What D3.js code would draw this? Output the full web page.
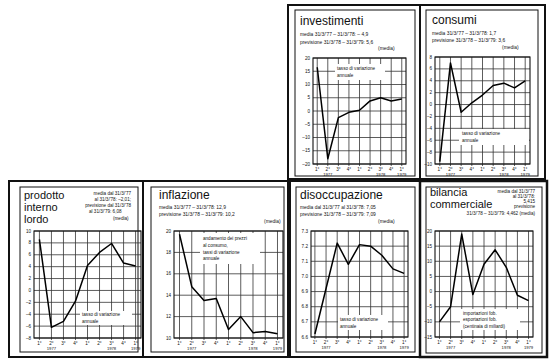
<!DOCTYPE html>
<html><head><meta charset="utf-8">
<script src="https://cdn.jsdelivr.net/npm/d3@7"></script>
<style>
html,body{margin:0;padding:0;background:#fff;}
svg{display:block;}
text{font-family:"Liberation Sans",Arial,Helvetica,sans-serif;fill:#111;}
</style></head><body>
<svg id="c" width="553" height="364"></svg>
<script>
// ---- data ----
const quarters = ["1°","2°","3°","4°","1°","2°","3°","4°","1°"];
const yearLabels = ["1977","1978","1979"];
const yearAt = [1, 6, 8]; // category index under which each year label sits

const investimenti = [16.5, -18, -2.5, -0.5, 0.3, 3.8, 5.0, 3.8, 4.5];
const consumi = [-9.6, 7.0, -1.3, 0.3, 1.6, 3.2, 3.6, 2.8, 4.0];
const prodotto = [8.6, -6.2, -5.2, -1.8, 4.2, 6.4, 7.9, 4.6, 4.1];
const inflazione = [19.7, 14.8, 13.5, 13.7, 10.8, 12.0, 10.5, 10.6, 10.4];
const disoccupazione = [6.62, 6.92, 7.22, 7.08, 7.21, 7.20, 7.14, 7.05, 7.02];
const bilancia = [-10, -5, 19, -1, 9, 13.8, 8, -1.2, -3];

const invTicks = [20, 15, 10, 5, 0, -5, -10, -15, -20];
const consTicks = [8, 6, 4, 2, 0, -2, -4, -6, -8, -10];
const pilTicks = [10, 8, 6, 4, 2, 0, -2, -4, -6, -8];
const inflTicks = [20, 18, 16, 14, 12, 10];
const disTicks = [7.3, 7.2, 7.1, 7.0, 6.9, 6.8, 6.7, 6.6];
const bilTicks = [20, 15, 10, 5, 0, -5, -10, -15];

const svg = d3.select("#c");

// ---- frames ----
function frame(x0, y0, x1, y1, w) {
  svg.append("rect").attr("x", x0).attr("y", y0).attr("width", x1 - x0).attr("height", y1 - y0)
    .attr("fill", "none").attr("stroke", "#111").attr("stroke-width", w);
}
// outer panel frames
frame(288, 5, 420, 179, 2);
frame(420, 5, 545, 179, 2);
frame(9, 181, 143, 357, 2);
frame(143, 181, 288, 357, 2);
frame(290, 181, 420, 357, 2);
frame(420, 181, 547, 357, 2.5);
// inner boxes
frame(295, 10, 415, 176, 1);
frame(426, 10, 538, 176, 1);
frame(20, 187, 138, 352, 1);
frame(151, 187, 284, 352, 1);
frame(296, 187, 415, 352, 1);
frame(426, 187, 542, 353, 1);

function txt(x, y, s, size, anchor, weight) {
  return svg.append("text").attr("x", x).attr("y", y).attr("font-size", size)
    .attr("text-anchor", anchor || "start").attr("font-weight", weight || "normal").text(s);
}

function panel(cfg) {
  const x = d3.scalePoint().domain(d3.range(quarters.length)).range([cfg.x0, cfg.x1]).padding(cfg.pad);
  const y = d3.scaleLinear().domain([d3.min(cfg.ticks), d3.max(cfg.ticks)]).range([cfg.y1, cfg.y0]);
  const g = svg.append("g");
  // horizontal grid
  g.selectAll(".h").data(cfg.ticks).join("line")
    .attr("x1", cfg.x0).attr("x2", cfg.x1).attr("y1", d => y(d)).attr("y2", d => y(d))
    .attr("stroke", "#333").attr("stroke-width", 0.8);
  // vertical grid
  g.selectAll(".v").data(d3.range(quarters.length)).join("line")
    .attr("x1", d => x(d)).attr("x2", d => x(d)).attr("y1", cfg.y0).attr("y2", cfg.y1 + 2)
    .attr("stroke", "#333").attr("stroke-width", 0.8);
  // plot border
  g.append("rect").attr("x", cfg.x0).attr("y", cfg.y0).attr("width", cfg.x1 - cfg.x0).attr("height", cfg.y1 - cfg.y0)
    .attr("fill", "none").attr("stroke", "#111").attr("stroke-width", 1.1);
  // y labels
  g.selectAll(".yl").data(cfg.ticks).join("text")
    .attr("x", cfg.x0 - 3).attr("y", d => y(d) + 1.6).attr("font-size", 4.6).attr("text-anchor", "end")
    .text(d => cfg.fmt ? cfg.fmt(d) : (d < 0 ? "–" + Math.abs(d) : d));
  // x labels
  g.selectAll(".xl").data(quarters).join("text")
    .attr("x", (d, i) => x(i)).attr("y", cfg.y1 + 6.5).attr("font-size", 4.6).attr("text-anchor", "middle").text(d => d);
  g.selectAll(".yr").data(yearLabels).join("text")
    .attr("x", (d, i) => x(yearAt[i])).attr("y", cfg.y1 + 11.5).attr("font-size", 4.2).attr("text-anchor", "middle").text(d => d);
  // legend box
  if (cfg.legend) {
    const L = cfg.legend;
    g.append("rect").attr("x", L.x).attr("y", L.y).attr("width", L.w).attr("height", L.h).attr("fill", "#fff");
    L.lines.forEach((s, i) => txt(L.x + L.tx, L.y + L.ty + i * L.dy, s, 4.6));
  }
  // data line
  const line = d3.line().x((d, i) => x(i)).y(d => y(d));
  g.append("path").datum(cfg.data).attr("d", line).attr("fill", "none")
    .attr("stroke", "#000").attr("stroke-width", 1.5).attr("stroke-linejoin", "round");
}

// ---- investimenti ----
txt(300, 25, "investimenti", 12);
txt(300, 36, "media 31/3/'77 – 31/3/'78: – 4,9", 4.9);
txt(300, 44, "previsione 31/3/'78 – 31/3/'79: 5,6", 4.9);
txt(378, 50, "(media)", 4.9);
panel({data: investimenti, ticks: invTicks, x0: 313, x1: 406, y0: 58, y1: 164, pad: 0.4,
  legend: {x: 335, y: 64, w: 50, h: 16, tx: 2, ty: 6, dy: 6.5, lines: ["tasso di variazione", "annuale"]}});

// ---- consumi ----
txt(432, 24, "consumi", 12);
txt(432, 35, "media 31/3/'77 – 31/3/'78: 1,7", 4.9);
txt(432, 42, "previsione 31/3/'78 – 31/3/'79: 3,6", 4.9);
txt(502, 49, "(media)", 4.9);
panel({data: consumi, ticks: consTicks, x0: 435, x1: 530, y0: 57, y1: 164, pad: 0.45,
  legend: {x: 459, y: 129, w: 70, h: 16, tx: 3, ty: 6, dy: 7, lines: ["tasso di variazione", "annuale"]}});

// ---- prodotto interno lordo ----
txt(24, 199, "prodotto", 11);
txt(24, 211, "interno", 11);
txt(24, 223, "lordo", 11);
txt(131, 195, "media dal 31/3/'77", 4.6, "end");
txt(131, 201, "al 31/3/'78: –2,01;", 4.6, "end");
txt(131, 207, "previsione dal 31/3/'78", 4.6, "end");
txt(89, 213, "al 31/3/'79: 6,08", 4.6);
txt(113, 220, "(media)", 4.6);
panel({data: prodotto, ticks: pilTicks, x0: 34, x1: 141, y0: 231, y1: 338, pad: 0.45,
  legend: {x: 80, y: 311, w: 52, h: 14, tx: 2, ty: 5, dy: 6.5, lines: ["tasso di variazione", "annuale"]}});

// ---- inflazione ----
txt(159, 199, "inflazione", 12);
txt(159, 209, "media 31/3/'77 – 31/3/'78: 12,9", 4.9);
txt(159, 216, "previsione 31/3/'78 – 31/3/'79: 10,2", 4.9);
txt(264, 223, "(media)", 4.9);
panel({data: inflazione, ticks: inflTicks, x0: 174, x1: 283, y0: 231, y1: 338, pad: 0.45,
  legend: {x: 200, y: 233, w: 60, h: 31, tx: 3, ty: 7, dy: 6.8,
    lines: ["andamento dei prezzi", "al consumo,", "tassi di variazione", "annuale"]}});

// ---- disoccupazione ----
txt(300, 199, "disoccupazione", 12);
txt(300, 209, "media dal 31/3/'77 al 31/3/'78: 7,05", 4.9);
txt(300, 216, "previsione 31/3/'78 – 31/3/'79: 7,09", 4.9);
txt(378, 223, "(media)", 4.9);
panel({data: disoccupazione, ticks: disTicks, fmt: d => d.toFixed(1), x0: 311, x1: 408, y0: 231, y1: 337, pad: 0.35,
  legend: {x: 338, y: 315, w: 50, h: 15, tx: 2, ty: 6, dy: 6.5, lines: ["tasso di variazione", "annuale"]}});

// ---- bilancia commerciale ----
txt(430, 196, "bilancia", 11);
txt(430, 208, "commerciale", 11);
txt(535, 193, "media dal 31/3/'77", 4.6, "end");
txt(535, 198, "al 31/3/'78:", 4.6, "end");
txt(535, 203, "5,415", 4.6, "end");
txt(535, 208, "previsione", 4.6, "end");
txt(535, 215, "31/3/'78 – 31/3/'79: 4,462 (media)", 4.6, "end");
panel({data: bilancia, ticks: bilTicks, x0: 435, x1: 533, y0: 231, y1: 337, pad: 0.4,
  legend: {x: 460, y: 309, w: 60, h: 21, tx: 3, ty: 5.5, dy: 6.5,
    lines: ["importazioni fob.", "esportazioni fob.", "(centinaia di miliardi)"]}});
</script>
</body></html>
